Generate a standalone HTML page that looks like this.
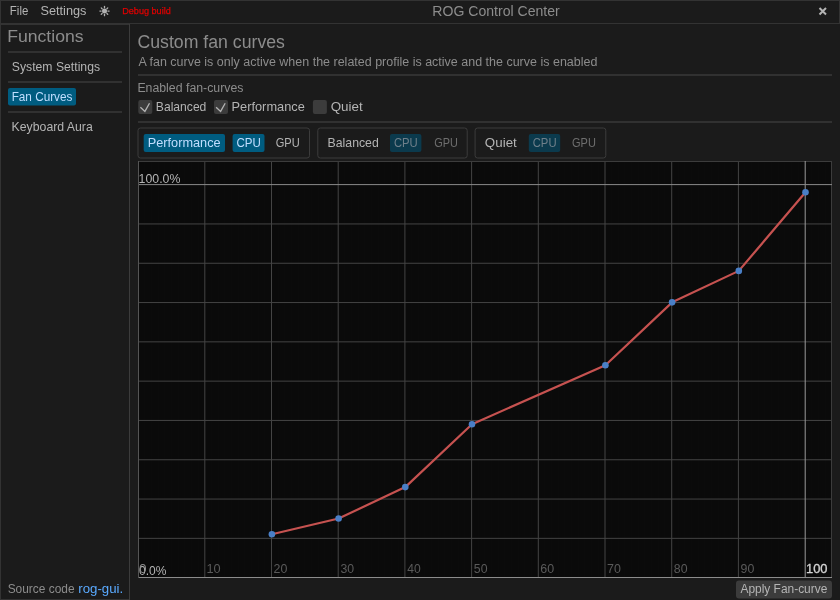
<!DOCTYPE html>
<html><head><meta charset="utf-8"><style>
html,body{margin:0;padding:0;background:#1b1b1b;width:840px;height:600px;overflow:hidden}
svg{display:block;will-change:transform;font-family:"Liberation Sans",sans-serif}
</style></head><body>
<svg width="840" height="600" viewBox="0 0 840 600">
<rect width="840" height="600" fill="#1b1b1b"/>
<rect x="0.5" y="0.5" width="839" height="23" rx="0" fill="#1b1b1b" stroke="#333333" stroke-width="1"/>
<text x="9.86" y="15.00" font-size="13" fill="#b4b4b4" font-weight="normal" textLength="18.45" lengthAdjust="spacingAndGlyphs">File</text>
<text x="40.42" y="15.00" font-size="13" fill="#b4b4b4" font-weight="normal" textLength="46.04" lengthAdjust="spacingAndGlyphs">Settings</text>
<g transform="translate(104.5,11.1)" stroke="#b0b0b0" stroke-width="1.3" stroke-linecap="round"><circle r="2.5" fill="#b0b0b0" stroke="none"/><line x1="3.4" y1="0" x2="4.6" y2="0" transform="rotate(0)"/><line x1="3.4" y1="0" x2="4.6" y2="0" transform="rotate(45)"/><line x1="3.4" y1="0" x2="4.6" y2="0" transform="rotate(90)"/><line x1="3.4" y1="0" x2="4.6" y2="0" transform="rotate(135)"/><line x1="3.4" y1="0" x2="4.6" y2="0" transform="rotate(180)"/><line x1="3.4" y1="0" x2="4.6" y2="0" transform="rotate(225)"/><line x1="3.4" y1="0" x2="4.6" y2="0" transform="rotate(270)"/><line x1="3.4" y1="0" x2="4.6" y2="0" transform="rotate(315)"/></g>
<text x="122.25" y="14.30" font-size="9.5" fill="#e00000" font-weight="normal" textLength="48.53" lengthAdjust="spacingAndGlyphs" stroke="#e00000" stroke-width="0.25">Debug build</text>
<text x="432.35" y="16.00" font-size="14" fill="#8c8c8c" font-weight="normal" textLength="127.39" lengthAdjust="spacingAndGlyphs">ROG Control Center</text>
<path d="M819.5 8 L826 14.5 M826 8 L819.5 14.5" stroke="#b4b4b4" stroke-width="2" />
<rect x="0" y="24" width="1" height="576" fill="#333333"/>
<rect x="0" y="24" width="130" height="1" fill="#333333"/>
<rect x="0" y="599" width="130" height="1" fill="#333333"/>
<rect x="129" y="24" width="1" height="576" fill="#3c3c3c"/>
<text x="7.15" y="41.70" font-size="17" fill="#8c8c8c" font-weight="normal" textLength="76.48" lengthAdjust="spacingAndGlyphs">Functions</text>
<rect x="8" y="51" width="114" height="2" fill="#313131"/>
<text x="11.85" y="71.00" font-size="13" fill="#b4b4b4" font-weight="normal" textLength="88.20" lengthAdjust="spacingAndGlyphs">System Settings</text>
<rect x="8" y="81" width="114" height="2" fill="#313131"/>
<rect x="8" y="88" width="68" height="17.6" rx="2" fill="#005c80"/>
<text x="11.64" y="101.00" font-size="13" fill="#c0deff" font-weight="normal" textLength="60.79" lengthAdjust="spacingAndGlyphs">Fan Curves</text>
<rect x="8" y="111" width="114" height="2" fill="#313131"/>
<text x="11.60" y="131.00" font-size="13" fill="#b4b4b4" font-weight="normal" textLength="81.20" lengthAdjust="spacingAndGlyphs">Keyboard Aura</text>
<text x="7.66" y="593.00" font-size="13" fill="#8c8c8c" font-weight="normal" textLength="66.87" lengthAdjust="spacingAndGlyphs">Source code</text>
<text x="78.32" y="593.00" font-size="13" fill="#5aaaff" font-weight="normal" textLength="44.89" lengthAdjust="spacingAndGlyphs">rog-gui.</text>
<text x="137.50" y="48.00" font-size="18" fill="#8c8c8c" font-weight="normal" textLength="147.44" lengthAdjust="spacingAndGlyphs">Custom fan curves</text>
<text x="138.38" y="65.80" font-size="12.5" fill="#8c8c8c" font-weight="normal" textLength="459.03" lengthAdjust="spacingAndGlyphs">A fan curve is only active when the related profile is active and the curve is enabled</text>
<rect x="138" y="74" width="694" height="2" fill="#313131"/>
<text x="137.39" y="92.00" font-size="12.5" fill="#8c8c8c" font-weight="normal" textLength="106.05" lengthAdjust="spacingAndGlyphs">Enabled fan-curves</text>
<rect x="138.3" y="100" width="14" height="14" rx="2" fill="#3c3c3c"/>
<path d="M140.40 107.20 L144.90 111.40 L149.50 103.20" stroke="#b4b4b4" stroke-width="1.3" fill="none"/>
<text x="155.81" y="111.00" font-size="13" fill="#b4b4b4" font-weight="normal" textLength="50.58" lengthAdjust="spacingAndGlyphs">Balanced</text>
<rect x="214" y="100" width="14" height="14" rx="2" fill="#3c3c3c"/>
<path d="M216.10 107.20 L220.60 111.40 L225.20 103.20" stroke="#b4b4b4" stroke-width="1.3" fill="none"/>
<text x="231.55" y="111.00" font-size="13" fill="#b4b4b4" font-weight="normal" textLength="73.22" lengthAdjust="spacingAndGlyphs">Performance</text>
<rect x="312.9" y="100" width="14" height="14" rx="2" fill="#3c3c3c"/>
<text x="330.67" y="111.00" font-size="13" fill="#b4b4b4" font-weight="normal" textLength="32.03" lengthAdjust="spacingAndGlyphs">Quiet</text>
<rect x="138" y="121" width="694" height="2" fill="#313131"/>
<rect x="138.0" y="128.0" width="171.5" height="30" rx="2.5" fill="none" stroke="#3c3c3c" stroke-width="1"/>
<rect x="143.7" y="134" width="81.3" height="18" rx="2" fill="#005c80"/>
<text x="147.76" y="147.30" font-size="13" fill="#c0deff" font-weight="normal" textLength="72.81" lengthAdjust="spacingAndGlyphs">Performance</text>
<rect x="232.6" y="134" width="31.900000000000006" height="18" rx="2" fill="#005c80"/>
<text x="236.51" y="147.30" font-size="13" fill="#c0deff" font-weight="normal" textLength="24.38" lengthAdjust="spacingAndGlyphs">CPU</text>
<text x="275.64" y="147.30" font-size="13" fill="#b4b4b4" font-weight="normal" textLength="24.01" lengthAdjust="spacingAndGlyphs">GPU</text>
<rect x="317.8" y="128.0" width="149.4" height="30" rx="2.5" fill="none" stroke="#3c3c3c" stroke-width="1"/>
<text x="327.59" y="147.30" font-size="13" fill="#b4b4b4" font-weight="normal" textLength="51.20" lengthAdjust="spacingAndGlyphs">Balanced</text>
<rect x="390" y="134" width="31.399999999999977" height="18" rx="2" fill="#0b3a4d"/>
<text x="393.93" y="147.30" font-size="13" fill="#6f7f8a" font-weight="normal" textLength="23.84" lengthAdjust="spacingAndGlyphs">CPU</text>
<text x="434.25" y="147.30" font-size="13" fill="#6e6e6e" font-weight="normal" textLength="23.59" lengthAdjust="spacingAndGlyphs">GPU</text>
<rect x="475.1" y="128.0" width="130.69999999999996" height="30" rx="2.5" fill="none" stroke="#3c3c3c" stroke-width="1"/>
<text x="484.87" y="147.30" font-size="13" fill="#b4b4b4" font-weight="normal" textLength="31.93" lengthAdjust="spacingAndGlyphs">Quiet</text>
<rect x="528.8" y="134" width="31.40000000000009" height="18" rx="2" fill="#0b3a4d"/>
<text x="532.73" y="147.30" font-size="13" fill="#6f7f8a" font-weight="normal" textLength="23.84" lengthAdjust="spacingAndGlyphs">CPU</text>
<text x="572.05" y="147.30" font-size="13" fill="#6e6e6e" font-weight="normal" textLength="23.80" lengthAdjust="spacingAndGlyphs">GPU</text>
<rect x="138" y="161" width="694" height="417" rx="0" fill="#0a0a0a"/>
<rect x="144" y="161" width="1" height="417" fill="#0b0b0b"/>
<rect x="151" y="161" width="1" height="417" fill="#0b0b0b"/>
<rect x="158" y="161" width="1" height="417" fill="#0b0b0b"/>
<rect x="164" y="161" width="1" height="417" fill="#0b0b0b"/>
<rect x="171" y="161" width="1" height="417" fill="#0b0b0b"/>
<rect x="178" y="161" width="1" height="417" fill="#0b0b0b"/>
<rect x="184" y="161" width="1" height="417" fill="#0b0b0b"/>
<rect x="191" y="161" width="1" height="417" fill="#0b0b0b"/>
<rect x="198" y="161" width="1" height="417" fill="#0b0b0b"/>
<rect x="211" y="161" width="1" height="417" fill="#0b0b0b"/>
<rect x="218" y="161" width="1" height="417" fill="#0b0b0b"/>
<rect x="224" y="161" width="1" height="417" fill="#0b0b0b"/>
<rect x="231" y="161" width="1" height="417" fill="#0b0b0b"/>
<rect x="238" y="161" width="1" height="417" fill="#0b0b0b"/>
<rect x="244" y="161" width="1" height="417" fill="#0b0b0b"/>
<rect x="251" y="161" width="1" height="417" fill="#0b0b0b"/>
<rect x="258" y="161" width="1" height="417" fill="#0b0b0b"/>
<rect x="264" y="161" width="1" height="417" fill="#0b0b0b"/>
<rect x="278" y="161" width="1" height="417" fill="#0b0b0b"/>
<rect x="284" y="161" width="1" height="417" fill="#0b0b0b"/>
<rect x="291" y="161" width="1" height="417" fill="#0b0b0b"/>
<rect x="298" y="161" width="1" height="417" fill="#0b0b0b"/>
<rect x="304" y="161" width="1" height="417" fill="#0b0b0b"/>
<rect x="311" y="161" width="1" height="417" fill="#0b0b0b"/>
<rect x="318" y="161" width="1" height="417" fill="#0b0b0b"/>
<rect x="324" y="161" width="1" height="417" fill="#0b0b0b"/>
<rect x="331" y="161" width="1" height="417" fill="#0b0b0b"/>
<rect x="344" y="161" width="1" height="417" fill="#0b0b0b"/>
<rect x="351" y="161" width="1" height="417" fill="#0b0b0b"/>
<rect x="358" y="161" width="1" height="417" fill="#0b0b0b"/>
<rect x="364" y="161" width="1" height="417" fill="#0b0b0b"/>
<rect x="371" y="161" width="1" height="417" fill="#0b0b0b"/>
<rect x="378" y="161" width="1" height="417" fill="#0b0b0b"/>
<rect x="384" y="161" width="1" height="417" fill="#0b0b0b"/>
<rect x="391" y="161" width="1" height="417" fill="#0b0b0b"/>
<rect x="398" y="161" width="1" height="417" fill="#0b0b0b"/>
<rect x="411" y="161" width="1" height="417" fill="#0b0b0b"/>
<rect x="418" y="161" width="1" height="417" fill="#0b0b0b"/>
<rect x="424" y="161" width="1" height="417" fill="#0b0b0b"/>
<rect x="431" y="161" width="1" height="417" fill="#0b0b0b"/>
<rect x="438" y="161" width="1" height="417" fill="#0b0b0b"/>
<rect x="444" y="161" width="1" height="417" fill="#0b0b0b"/>
<rect x="451" y="161" width="1" height="417" fill="#0b0b0b"/>
<rect x="458" y="161" width="1" height="417" fill="#0b0b0b"/>
<rect x="464" y="161" width="1" height="417" fill="#0b0b0b"/>
<rect x="478" y="161" width="1" height="417" fill="#0b0b0b"/>
<rect x="484" y="161" width="1" height="417" fill="#0b0b0b"/>
<rect x="491" y="161" width="1" height="417" fill="#0b0b0b"/>
<rect x="498" y="161" width="1" height="417" fill="#0b0b0b"/>
<rect x="504" y="161" width="1" height="417" fill="#0b0b0b"/>
<rect x="511" y="161" width="1" height="417" fill="#0b0b0b"/>
<rect x="518" y="161" width="1" height="417" fill="#0b0b0b"/>
<rect x="524" y="161" width="1" height="417" fill="#0b0b0b"/>
<rect x="531" y="161" width="1" height="417" fill="#0b0b0b"/>
<rect x="544" y="161" width="1" height="417" fill="#0b0b0b"/>
<rect x="551" y="161" width="1" height="417" fill="#0b0b0b"/>
<rect x="558" y="161" width="1" height="417" fill="#0b0b0b"/>
<rect x="564" y="161" width="1" height="417" fill="#0b0b0b"/>
<rect x="571" y="161" width="1" height="417" fill="#0b0b0b"/>
<rect x="578" y="161" width="1" height="417" fill="#0b0b0b"/>
<rect x="584" y="161" width="1" height="417" fill="#0b0b0b"/>
<rect x="591" y="161" width="1" height="417" fill="#0b0b0b"/>
<rect x="598" y="161" width="1" height="417" fill="#0b0b0b"/>
<rect x="611" y="161" width="1" height="417" fill="#0b0b0b"/>
<rect x="618" y="161" width="1" height="417" fill="#0b0b0b"/>
<rect x="624" y="161" width="1" height="417" fill="#0b0b0b"/>
<rect x="631" y="161" width="1" height="417" fill="#0b0b0b"/>
<rect x="638" y="161" width="1" height="417" fill="#0b0b0b"/>
<rect x="644" y="161" width="1" height="417" fill="#0b0b0b"/>
<rect x="651" y="161" width="1" height="417" fill="#0b0b0b"/>
<rect x="658" y="161" width="1" height="417" fill="#0b0b0b"/>
<rect x="664" y="161" width="1" height="417" fill="#0b0b0b"/>
<rect x="678" y="161" width="1" height="417" fill="#0b0b0b"/>
<rect x="684" y="161" width="1" height="417" fill="#0b0b0b"/>
<rect x="691" y="161" width="1" height="417" fill="#0b0b0b"/>
<rect x="698" y="161" width="1" height="417" fill="#0b0b0b"/>
<rect x="704" y="161" width="1" height="417" fill="#0b0b0b"/>
<rect x="711" y="161" width="1" height="417" fill="#0b0b0b"/>
<rect x="718" y="161" width="1" height="417" fill="#0b0b0b"/>
<rect x="724" y="161" width="1" height="417" fill="#0b0b0b"/>
<rect x="731" y="161" width="1" height="417" fill="#0b0b0b"/>
<rect x="744" y="161" width="1" height="417" fill="#0b0b0b"/>
<rect x="751" y="161" width="1" height="417" fill="#0b0b0b"/>
<rect x="758" y="161" width="1" height="417" fill="#0b0b0b"/>
<rect x="764" y="161" width="1" height="417" fill="#0b0b0b"/>
<rect x="771" y="161" width="1" height="417" fill="#0b0b0b"/>
<rect x="778" y="161" width="1" height="417" fill="#0b0b0b"/>
<rect x="784" y="161" width="1" height="417" fill="#0b0b0b"/>
<rect x="791" y="161" width="1" height="417" fill="#0b0b0b"/>
<rect x="798" y="161" width="1" height="417" fill="#0b0b0b"/>
<rect x="811" y="161" width="1" height="417" fill="#0b0b0b"/>
<rect x="818" y="161" width="1" height="417" fill="#0b0b0b"/>
<rect x="825" y="161" width="1" height="417" fill="#0b0b0b"/>
<line x1="204.80" y1="161" x2="204.80" y2="578" stroke="#444444" stroke-width="1"/>
<line x1="271.50" y1="161" x2="271.50" y2="578" stroke="#444444" stroke-width="1"/>
<line x1="338.20" y1="161" x2="338.20" y2="578" stroke="#444444" stroke-width="1"/>
<line x1="404.90" y1="161" x2="404.90" y2="578" stroke="#444444" stroke-width="1"/>
<line x1="471.60" y1="161" x2="471.60" y2="578" stroke="#444444" stroke-width="1"/>
<line x1="538.30" y1="161" x2="538.30" y2="578" stroke="#444444" stroke-width="1"/>
<line x1="605.00" y1="161" x2="605.00" y2="578" stroke="#444444" stroke-width="1"/>
<line x1="671.70" y1="161" x2="671.70" y2="578" stroke="#444444" stroke-width="1"/>
<line x1="738.40" y1="161" x2="738.40" y2="578" stroke="#444444" stroke-width="1"/>
<line x1="138" y1="538.35" x2="832" y2="538.35" stroke="#444444" stroke-width="1"/>
<line x1="138" y1="499.05" x2="832" y2="499.05" stroke="#444444" stroke-width="1"/>
<line x1="138" y1="459.75" x2="832" y2="459.75" stroke="#444444" stroke-width="1"/>
<line x1="138" y1="420.45" x2="832" y2="420.45" stroke="#444444" stroke-width="1"/>
<line x1="138" y1="381.15" x2="832" y2="381.15" stroke="#444444" stroke-width="1"/>
<line x1="138" y1="341.85" x2="832" y2="341.85" stroke="#444444" stroke-width="1"/>
<line x1="138" y1="302.55" x2="832" y2="302.55" stroke="#444444" stroke-width="1"/>
<line x1="138" y1="263.25" x2="832" y2="263.25" stroke="#444444" stroke-width="1"/>
<line x1="138" y1="223.95" x2="832" y2="223.95" stroke="#444444" stroke-width="1"/>
<rect x="138.5" y="161.5" width="693" height="416" rx="0" fill="none" stroke="#3c3c3c" stroke-width="1"/>
<line x1="805.2" y1="161" x2="805.2" y2="578" stroke="#9a9a9a" stroke-width="1"/>
<line x1="138" y1="184.6" x2="832" y2="184.6" stroke="#8a8a8a" stroke-width="1"/>
<rect x="138" y="577" width="694" height="1" fill="#8c8c8c"/>
<rect x="138" y="161" width="1" height="417" fill="#555555"/>
<text x="138.56" y="182.50" font-size="12.5" fill="#b4b4b4" font-weight="normal" textLength="41.88" lengthAdjust="spacingAndGlyphs">100.0%</text>
<text x="139.03" y="575.00" font-size="12.5" fill="#b4b4b4" font-weight="normal" textLength="27.40" lengthAdjust="spacingAndGlyphs">0.0%</text>
<text x="206.53" y="573.00" font-size="12.5" fill="#5a5a5a" font-weight="normal" textLength="14.17" lengthAdjust="spacingAndGlyphs">10</text>
<text x="273.58" y="573.00" font-size="12.5" fill="#5a5a5a" font-weight="normal" textLength="13.81" lengthAdjust="spacingAndGlyphs">20</text>
<text x="340.43" y="573.00" font-size="12.5" fill="#5a5a5a" font-weight="normal" textLength="13.65" lengthAdjust="spacingAndGlyphs">30</text>
<text x="407.32" y="573.00" font-size="12.5" fill="#5a5a5a" font-weight="normal" textLength="13.45" lengthAdjust="spacingAndGlyphs">40</text>
<text x="473.81" y="573.00" font-size="12.5" fill="#5a5a5a" font-weight="normal" textLength="13.67" lengthAdjust="spacingAndGlyphs">50</text>
<text x="540.37" y="573.00" font-size="12.5" fill="#5a5a5a" font-weight="normal" textLength="13.82" lengthAdjust="spacingAndGlyphs">60</text>
<text x="607.06" y="573.00" font-size="12.5" fill="#5a5a5a" font-weight="normal" textLength="13.82" lengthAdjust="spacingAndGlyphs">70</text>
<text x="673.86" y="573.00" font-size="12.5" fill="#5a5a5a" font-weight="normal" textLength="13.72" lengthAdjust="spacingAndGlyphs">80</text>
<text x="740.52" y="573.00" font-size="12.5" fill="#5a5a5a" font-weight="normal" textLength="13.76" lengthAdjust="spacingAndGlyphs">90</text>
<text x="138.97" y="573.00" font-size="12.5" fill="#8c8c8c" font-weight="normal" textLength="7.56" lengthAdjust="spacingAndGlyphs">0</text>
<text x="806.02" y="573.00" font-size="12.5" fill="#d4d4d4" font-weight="normal" textLength="21.48" lengthAdjust="spacingAndGlyphs" stroke="#d4d4d4" stroke-width="0.3">100</text>
<path d="M271.90 534.26 L338.60 518.53 L405.30 487.09 L472.00 424.19 L605.40 365.23 L672.10 302.33 L738.80 270.88 L805.50 192.26" stroke="#c65250" stroke-width="2.2" fill="none" stroke-linejoin="round"/>
<circle cx="271.90" cy="534.26" r="3.3" fill="#4a7fc6"/>
<circle cx="338.60" cy="518.53" r="3.3" fill="#4a7fc6"/>
<circle cx="405.30" cy="487.09" r="3.3" fill="#4a7fc6"/>
<circle cx="472.00" cy="424.19" r="3.3" fill="#4a7fc6"/>
<circle cx="605.40" cy="365.23" r="3.3" fill="#4a7fc6"/>
<circle cx="672.10" cy="302.33" r="3.3" fill="#4a7fc6"/>
<circle cx="738.80" cy="270.88" r="3.3" fill="#4a7fc6"/>
<circle cx="805.50" cy="192.26" r="3.3" fill="#4a7fc6"/>
<rect x="736" y="580.5" width="96" height="18" rx="3" fill="#3c3c3c"/>
<text x="740.48" y="592.90" font-size="13" fill="#b4b4b4" font-weight="normal" textLength="86.85" lengthAdjust="spacingAndGlyphs">Apply Fan-curve</text>
</svg>
</body></html>
